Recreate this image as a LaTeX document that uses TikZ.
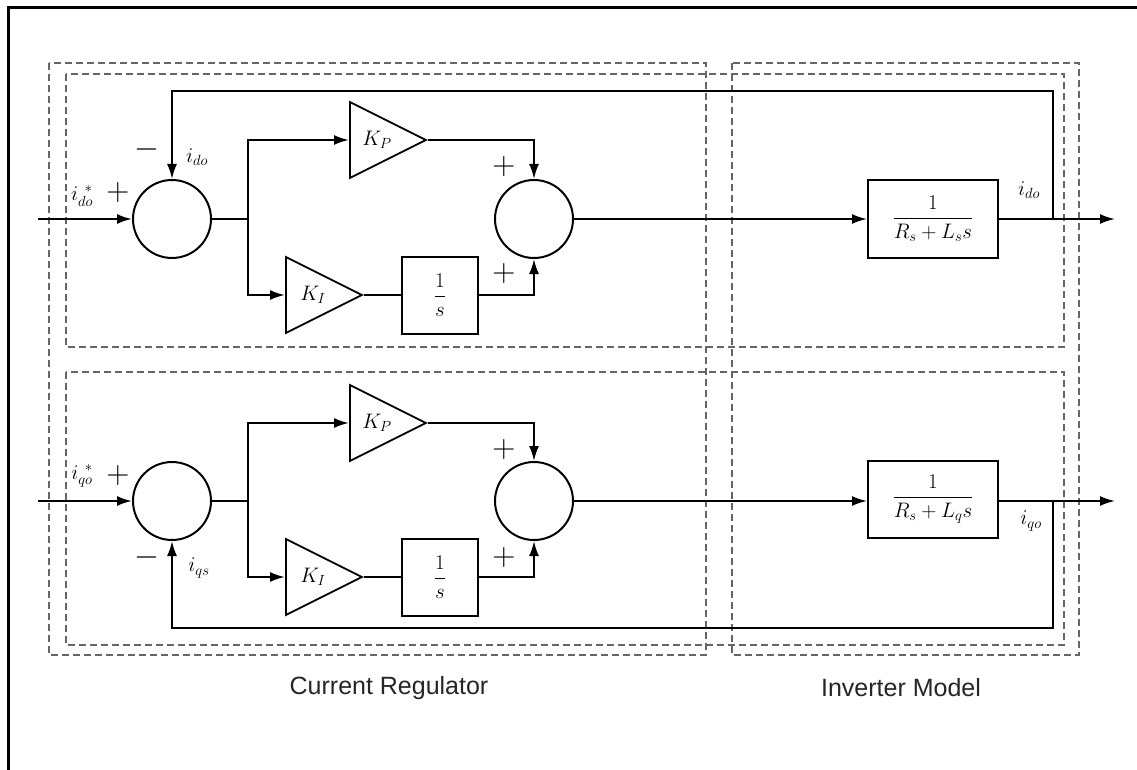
\RequirePackage{fix-cm}
\documentclass[tikz,border=0pt]{standalone}
\usepackage{amsmath}
\usepackage{fontspec}
\usetikzlibrary{shapes.geometric,arrows.meta}
\newfontfamily\capfont{Liberation Sans}
\begin{document}
\begin{tikzpicture}[x=1pt,y=-1pt,
  wire/.style={line width=2pt},
  arr/.style={wire,-{Latex[length=15pt,width=10pt]}},
  sumnode/.style={circle,draw,line width=2pt,minimum size=78pt,inner sep=0pt},
  gain/.style={isosceles triangle,isosceles triangle stretches,draw,line width=1.8pt,minimum width=76pt,minimum height=76pt,inner sep=0pt,anchor=lower side},
  blockbox/.style={draw,line width=2pt,inner sep=0pt,font=\fontsize{21}{24}\selectfont},
  region/.style={draw=black!60,line width=1.4pt,dash pattern=on 7pt off 4pt},
  mlab/.style={font=\fontsize{21}{24}\selectfont,inner sep=0pt},
  sign/.style={font=\fontsize{32}{34}\selectfont,inner sep=0pt},
  caption/.style={font=\capfont\fontsize{25}{28}\selectfont,text=black!85,inner sep=0pt}]
\useasboundingbox (0,0) rectangle (1137,770);
\fill[white] (0,0) rectangle (1137,770);
% frame
\draw[line width=3pt] (8,770) -- (8,8) -- (1137,8);
% regions
\draw[region] (49,63) rectangle (706,655);
\draw[region] (732,63) rectangle (1079,655);
\draw[region] (66,74) rectangle (1064,347);
\draw[region] (66,372) rectangle (1064,645);
% ---------- top loop ----------
\node[sumnode] (s1t) at (172,219) {};
\node[sumnode] (s2t) at (534,219) {};
\node[gain] (kpt) at (349,140) {};
\node[gain] (kit) at (285,295) {};
\node[mlab] (kptl) at (377,140) {$K_P$};
\node[mlab] (kitl) at (313,295) {$K_I$};
\node[blockbox,minimum width=76pt,minimum height=77pt] (intt) at (440,295) {$\dfrac{1}{s}$};
\node[blockbox,minimum width=130pt,minimum height=77pt] (plt) at (933,219) {$\dfrac{1}{R_s+L_s s}$};
\coordinate (int) at (38,219);
\coordinate (brt) at (248,219);
\coordinate (outt) at (1115,219);
\coordinate (tapt) at (1053,219);
\coordinate (fbt) at (1053,91);
\draw[arr] (int) -- (s1t);
\draw[wire] (s1t) -- (brt);
\draw[arr] (brt) |- (kpt.lower side);
\draw[arr] (brt) |- (kit.lower side);
\draw[arr] (kpt.apex) -| (s2t.north);
\draw[wire] (kit.apex) -- (intt.west);
\draw[arr] (intt.east) -| (s2t.south);
\draw[arr] (s2t) -- (plt);
\draw[arr] (plt) -- (outt);
\draw[arr] (tapt) -- (fbt) -| (s1t.north);
\node[mlab] (lint) at (82,196) {$i_{do}^{\;\,*}$};
\node[sign] (pint) at (118,193) {$+$};
\node[sign] (mfbt) at (147,150) {$-$};
\node[mlab] (lfbt) at (197,157) {$i_{do}$};
\node[sign] (pkpt) at (504,167) {$+$};
\node[sign] (pkit) at (504,273) {$+$};
\node[mlab] (loutt) at (1029,190) {$i_{do}$};
% ---------- bottom loop ----------
\node[sumnode] (s1b) at (172,501) {};
\node[sumnode] (s2b) at (534,501) {};
\node[gain] (kpb) at (349,423) {};
\node[gain] (kib) at (285,577) {};
\node[mlab] (kpbl) at (377,423) {$K_P$};
\node[mlab] (kibl) at (313,577) {$K_I$};
\node[blockbox,minimum width=76pt,minimum height=77pt] (intb) at (440,577) {$\dfrac{1}{s}$};
\node[blockbox,minimum width=130pt,minimum height=77pt] (plb) at (933,499) {$\dfrac{1}{R_s+L_q s}$};
\coordinate (inb) at (38,501);
\coordinate (brb) at (248,501);
\coordinate (outb) at (1115,501);
\coordinate (tapb) at (1053,501);
\coordinate (fbb) at (1053,628);
\draw[arr] (inb) -- (s1b);
\draw[wire] (s1b) -- (brb);
\draw[arr] (brb) |- (kpb.lower side);
\draw[arr] (brb) |- (kib.lower side);
\draw[arr] (kpb.apex) -| (s2b.north);
\draw[wire] (kib.apex) -- (intb.west);
\draw[arr] (intb.east) -| (s2b.south);
\draw[arr] (s2b) -- (plb.west |- s2b);
\draw[arr] (plb.east |- tapb) -- (outb);
\draw[arr] (tapb) -- (fbb) -| (s1b.south);
\node[mlab] (linb) at (82,476) {$i_{qo}^{\;\,*}$};
\node[sign] (pinb) at (118,475) {$+$};
\node[sign] (mfbb) at (147,557) {$-$};
\node[mlab] (lfbb) at (199,568) {$i_{qs}$};
\node[sign] (pkpb) at (504,449) {$+$};
\node[sign] (pkib) at (504,557) {$+$};
\node[mlab] (loutb) at (1031,521) {$i_{qo}$};
% captions
\node[caption] (capcr) at (389,688) {Current Regulator};
\node[caption] (capim) at (901,688) {Inverter Model};
\end{tikzpicture}
\end{document}
